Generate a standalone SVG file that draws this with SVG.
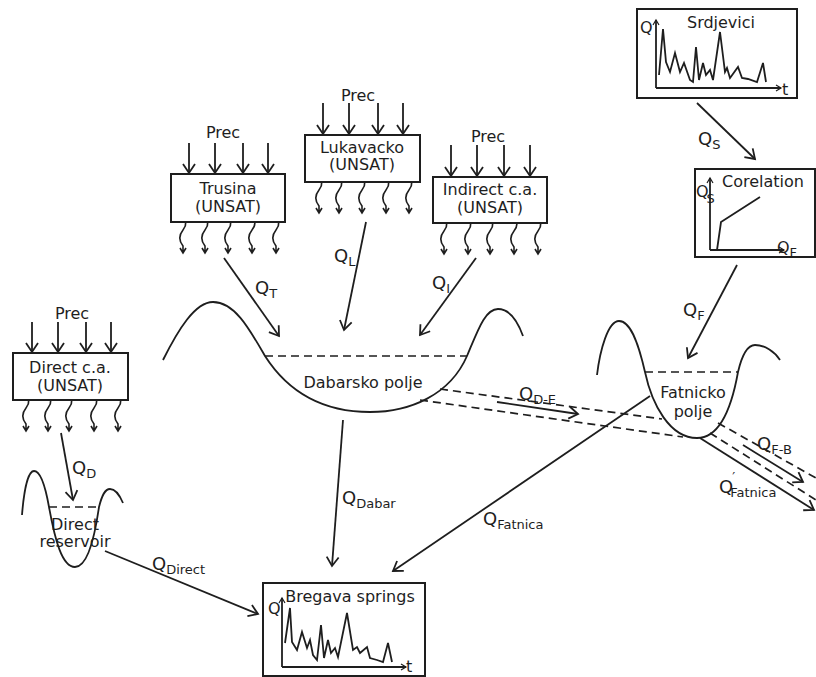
<svg xmlns="http://www.w3.org/2000/svg" xmlns:xlink="http://www.w3.org/1999/xlink" width="816" height="677" viewBox="0 0 816 677">
<style>
text{font-family:"DejaVu Sans",Verdana,sans-serif;fill:#1e1e1e}
.t{font-size:16px}
.m{text-anchor:middle}
.q{font-size:18px}
.s{font-size:13px}
.box{fill:#fff;stroke:#1e1e1e;stroke-width:2}
.ln{fill:none;stroke:#1e1e1e;stroke-width:1.8}
.dash{fill:none;stroke:#1e1e1e;stroke-width:1.7;stroke-dasharray:8,5}
.ar{marker-end:url(#ah)}
.sa{marker-end:url(#sah)}
</style>
<defs>
<marker id="ah" markerUnits="userSpaceOnUse" markerWidth="16" markerHeight="16" refX="12" refY="8" orient="auto"><path d="M3,2 L12,8 L3,14" fill="none" stroke="#1e1e1e" stroke-width="1.8"/></marker>
<marker id="sah" markerUnits="userSpaceOnUse" markerWidth="10" markerHeight="10" refX="8" refY="5" orient="auto"><path d="M3,2 L8,5 L3,8" fill="none" stroke="#1e1e1e" stroke-width="1.2"/></marker>
<path id="wv" d="M0,0 C5,5 5,10 1,15 C-3,20 -3,26 1,31 L1,38 M-2,33 L1,38 L4,33" fill="none" stroke="#1e1e1e" stroke-width="1.6"/>
</defs>

<g id="connectors">
<line class="ln ar" x1="32" y1="322" x2="32" y2="352"/>
<line class="ln ar" x1="58" y1="322" x2="58" y2="352"/>
<line class="ln ar" x1="86" y1="322" x2="86" y2="352"/>
<line class="ln ar" x1="111" y1="322" x2="111" y2="352"/>
<line class="ln ar" x1="189" y1="143" x2="189" y2="173"/>
<line class="ln ar" x1="215" y1="143" x2="215" y2="173"/>
<line class="ln ar" x1="243" y1="143" x2="243" y2="173"/>
<line class="ln ar" x1="268" y1="143" x2="268" y2="173"/>
<line class="ln ar" x1="323" y1="103" x2="323" y2="134"/>
<line class="ln ar" x1="349" y1="103" x2="349" y2="134"/>
<line class="ln ar" x1="378" y1="103" x2="378" y2="134"/>
<line class="ln ar" x1="403" y1="103" x2="403" y2="134"/>
<line class="ln ar" x1="451" y1="145" x2="451" y2="176"/>
<line class="ln ar" x1="477" y1="145" x2="477" y2="176"/>
<line class="ln ar" x1="504" y1="145" x2="504" y2="176"/>
<line class="ln ar" x1="530" y1="145" x2="530" y2="176"/>
<use xlink:href="#wv" x="25" y="393"/><use xlink:href="#wv" x="47" y="393"/><use xlink:href="#wv" x="68" y="393"/><use xlink:href="#wv" x="93" y="393"/><use xlink:href="#wv" x="117" y="393"/>
<use xlink:href="#wv" x="182" y="215"/><use xlink:href="#wv" x="204" y="215"/><use xlink:href="#wv" x="227" y="215"/><use xlink:href="#wv" x="251" y="215"/><use xlink:href="#wv" x="275" y="215"/>
<use xlink:href="#wv" x="318" y="175"/><use xlink:href="#wv" x="338" y="175"/><use xlink:href="#wv" x="361" y="175"/><use xlink:href="#wv" x="385" y="175"/><use xlink:href="#wv" x="408" y="175"/>
<use xlink:href="#wv" x="443" y="216"/><use xlink:href="#wv" x="467" y="216"/><use xlink:href="#wv" x="489" y="216"/><use xlink:href="#wv" x="513" y="216"/><use xlink:href="#wv" x="537" y="216"/>
<line class="ln ar" x1="224" y1="258" x2="279" y2="336"/>
<line class="ln ar" x1="366" y1="222" x2="344" y2="330"/>
<line class="ln ar" x1="476" y1="258" x2="420" y2="335"/>
<line class="ln ar" x1="61" y1="433" x2="73" y2="500"/>
<line class="ln ar" x1="105" y1="551" x2="258" y2="614"/>
<line class="ln ar" x1="343" y1="420" x2="332" y2="566"/>
<line class="ln ar" x1="650" y1="396" x2="393" y2="571"/>
<line class="ln ar" x1="697" y1="103" x2="755" y2="159"/>
<line class="ln ar" x1="737" y1="265" x2="688" y2="358"/>
<line class="ln ar" x1="497" y1="402" x2="578" y2="414"/>
<line class="ln ar" x1="743" y1="445" x2="803" y2="482"/>
<line class="ln ar" x1="700" y1="438" x2="814" y2="510"/>
<line class="dash" x1="440" y1="389" x2="662" y2="419"/>
<line class="dash" x1="420" y1="400" x2="683" y2="437"/>
<line class="dash" x1="718" y1="423" x2="816" y2="478"/>
<line class="dash" x1="710" y1="433" x2="816" y2="500"/>
</g>

<g id="direct-ca">
<rect class="box" x="13" y="353" width="115" height="47"/>
<text class="t m" x="72" y="319">Prec</text>
<text class="t m" x="70" y="373">Direct c.a.</text>
<text class="t m" x="70" y="391">(UNSAT)</text>
</g>

<g id="trusina">
<rect class="box" x="171" y="174" width="114" height="48"/>
<text class="t m" x="223" y="138">Prec</text>
<text class="t m" x="228" y="194">Trusina</text>
<text class="t m" x="228" y="212">(UNSAT)</text>
</g>

<g id="lukavacko">
<rect class="box" x="305" y="135" width="115" height="47"/>
<text class="t m" x="358" y="101">Prec</text>
<text class="t m" x="362" y="153">Lukavacko</text>
<text class="t m" x="362" y="170">(UNSAT)</text>
</g>

<g id="indirect-ca">
<rect class="box" x="433" y="177" width="114" height="46"/>
<text class="t m" x="488" y="142">Prec</text>
<text class="t m" x="490" y="195">Indirect c.a.</text>
<text class="t m" x="490" y="213">(UNSAT)</text>
</g>

<g id="srdjevici">
<rect class="box" x="637" y="9" width="160" height="89"/>
<text class="t m" x="721" y="28">Srdjevici</text>
<text class="t" x="640" y="33">Q</text>
<text class="t" x="782" y="95">t</text>
<line class="ln sa" x1="656" y1="88" x2="656" y2="20"/>
<line class="ln sa" x1="656" y1="88" x2="781" y2="88"/>
<polyline class="ln" points="659,75 663,29 666,62 670,72 675,53 680,72 684,63 690,80 693,82 696,47 699,80 703,63 706,75 710,70 713,80 720,32 725,72 727,68 730,78 738,67 742,78 748,79 757,82 763,63 766,82"/>
</g>

<g id="corelation">
<rect class="box" x="695" y="169" width="120" height="88"/>
<text class="t m" x="763" y="187">Corelation</text>
<line class="ln sa" x1="710" y1="250" x2="710" y2="178"/>
<line class="ln sa" x1="710" y1="250" x2="784" y2="250"/>
<polyline class="ln" points="717,250 721,222 760,197"/>
<text class="t" x="696" y="197">Q<tspan class="s" dx="-2" dy="6">S</tspan></text>
<text class="t" x="777" y="253">Q<tspan class="s" dy="4">F</tspan></text>
</g>

<g id="dabarsko-polje">
<path class="ln" d="M163,360 C178,330 195,302 213,302 C235,302 250,330 265,356 C290,395 325,412 370,412 C410,412 450,395 467,356 C478,330 485,309 498,309 C510,309 518,322 523,336"/>
<line class="dash" x1="265" y1="356" x2="467" y2="356"/>
<text class="t m" x="363" y="388">Dabarsko polje</text>
</g>

<g id="fatnicko-polje">
<path class="ln" d="M597,375 C600,350 608,321 619,321 C632,321 640,350 645,372 C652,405 670,438 697,438 C722,438 733,400 738,372 C742,355 747,345 755,345 C765,345 775,352 780,360"/>
<line class="dash" x1="645" y1="372" x2="738" y2="372"/>
<text class="t m" x="693" y="398">Fatnicko</text>
<text class="t m" x="693" y="417">polje</text>
</g>

<g id="direct-reservoir">
<path class="ln" d="M22,515 C24,490 28,471 34,471 C41,471 46,490 49,507 C55,540 62,567 75,567 C88,567 95,535 99,507 C102,495 105,489 110,489 C116,489 120,496 123,503"/>
<line class="dash" x1="49" y1="507" x2="99" y2="507"/>
<text class="t m" x="75" y="530">Direct</text>
<text class="t m" x="75" y="547">reservoir</text>
</g>

<g id="bregava-springs">
<rect class="box" x="263" y="583" width="162" height="93"/>
<text class="t m" x="350" y="602">Bregava springs</text>
<text class="t" x="268" y="614">Q</text>
<text class="t" x="406" y="672">t</text>
<line class="ln sa" x1="282" y1="667" x2="282" y2="598"/>
<line class="ln sa" x1="282" y1="667" x2="406" y2="667"/>
<polyline class="ln" points="285,643 290,608 292,642 297,650 302,632 307,648 310,640 313,655 317,660 321,625 324,658 328,640 331,653 335,648 338,657 347,613 353,650 357,647 360,653 367,647 370,658 377,660 383,662 388,643 392,662"/>
</g>

<g id="labels">
<text class="q" x="255" y="294">Q<tspan class="s" dy="4">T</tspan></text>
<text class="q" x="334" y="262">Q<tspan class="s" dy="4">L</tspan></text>
<text class="q" x="432" y="289">Q<tspan class="s" dy="4">I</tspan></text>
<text class="q" x="72" y="474">Q<tspan class="s" dy="4">D</tspan></text>
<text class="q" x="152" y="570">Q<tspan class="s" dy="4">Direct</tspan></text>
<text class="q" x="342" y="504">Q<tspan class="s" dy="4">Dabar</tspan></text>
<text class="q" x="483" y="525">Q<tspan class="s" dy="4">Fatnica</tspan></text>
<text class="q" x="698" y="145">Q<tspan class="s" dy="4">S</tspan></text>
<text class="q" x="683" y="316">Q<tspan class="s" dy="4">F</tspan></text>
<text class="q" x="519" y="400">Q<tspan class="s" dy="4">D-E</tspan></text>
<text class="q" x="757" y="450">Q<tspan class="s" dy="4">F-B</tspan></text>
<text class="q" x="719" y="493">Q<tspan class="s" dx="-1" dy="-12">′</tspan><tspan class="s" dx="-5" dy="16">Fatnica</tspan></text>
</g>
</svg>
